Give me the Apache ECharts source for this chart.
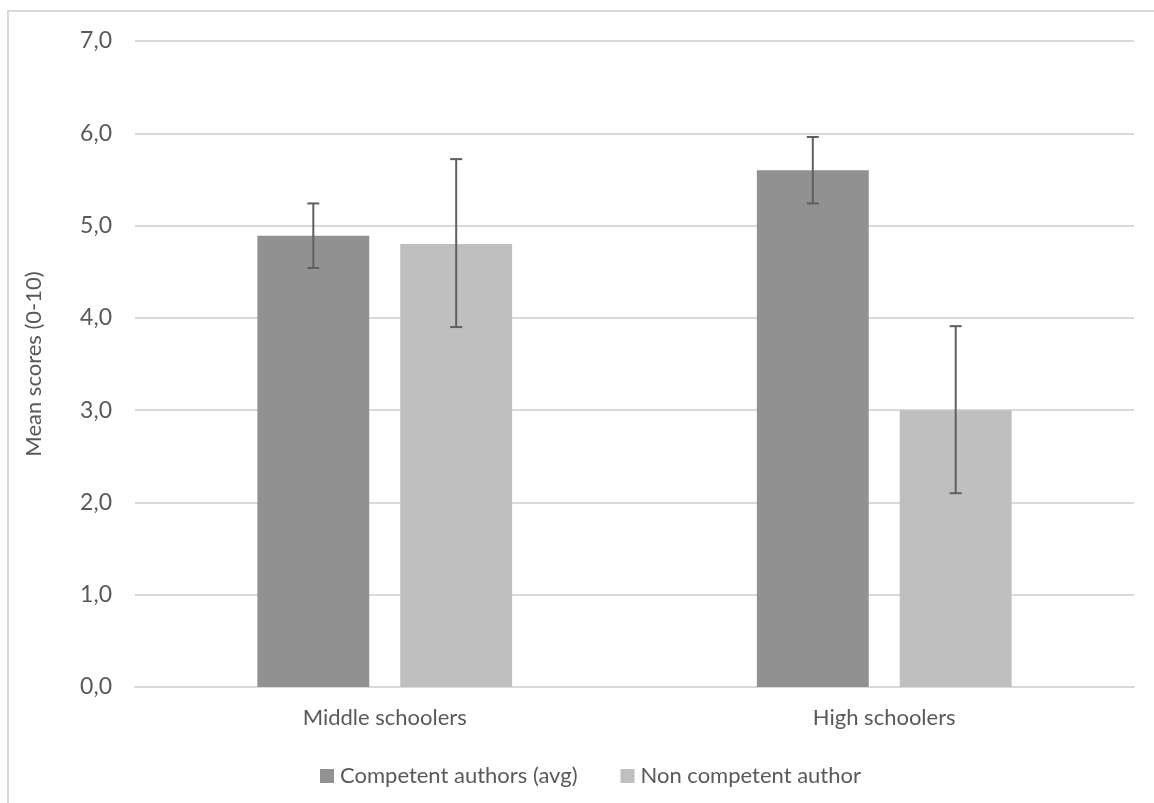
<!DOCTYPE html>
<html>
<head>
<meta charset="utf-8">
<script src="https://cdn.jsdelivr.net/npm/echarts@6/dist/echarts.min.js"></script>
<style>html,body{margin:0;padding:0;background:#fff}#c{width:1154px;height:803px}</style>
</head>
<body>
<div id="c"></div>
<script>
const categories = ['Middle schoolers', 'High schoolers'];
const seriesNames = ['Competent authors (avg)', 'Non competent author'];
const competentMeans = [4.89, 5.60];
const competentLow = [4.54, 5.24];
const competentHigh = [5.24, 5.96];
const nonCompetentMeans = [4.80, 3.00];
const nonCompetentLow = [3.90, 2.10];
const nonCompetentHigh = [5.72, 3.91];
const yTicks = [0, 1, 2, 3, 4, 5, 6, 7];

const FONT = 'Lato';
const TXT = '#595959';
const FS = 22;
const BAR_W = 0.224, BAR_GAP = 0.277;

function errSeries(low, high, sign) {
  return {
    type: 'custom',
    data: categories.map((c, i) => [i, low[i], high[i]]),
    z: 10,
    silent: true,
    renderItem: function (params, api) {
      const band = api.size([1, 0])[0];
      const off = sign * band * BAR_W * (1 + BAR_GAP) / 2;
      const lo = api.coord([api.value(0), api.value(1)]);
      const hi = api.coord([api.value(0), api.value(2)]);
      const x = lo[0] + off;
      const cap = 6;
      const style = { stroke: '#5f5f5f', lineWidth: 2 };
      return {
        type: 'group',
        children: [
          { type: 'line', shape: { x1: x, y1: lo[1], x2: x, y2: hi[1] }, style },
          { type: 'line', shape: { x1: x - cap, y1: lo[1], x2: x + cap, y2: lo[1] }, style },
          { type: 'line', shape: { x1: x - cap, y1: hi[1], x2: x + cap, y2: hi[1] }, style }
        ]
      };
    }
  };
}

const chart = echarts.init(document.getElementById('c'));
chart.setOption({
  animation: false,
  backgroundColor: '#fff',
  textStyle: { fontFamily: FONT },
  graphic: [{
    type: 'rect', z: -1, silent: true,
    shape: { x: 8, y: 11, width: 1170, height: 820 },
    style: { fill: 'none', stroke: '#d9d9d9', lineWidth: 2 }
  }],
  grid: { left: 135, right: 20, top: 41, bottom: 116 },
  legend: {
    data: seriesNames,
    left: 315, top: 760,
    itemWidth: 14, itemHeight: 14, itemGap: 43,
    icon: 'rect',
    textStyle: { fontFamily: FONT, fontSize: FS, color: TXT, padding: [0, 0, 0, 1] }
  },
  xAxis: {
    type: 'category',
    data: categories,
    axisLine: { lineStyle: { color: '#d9d9d9', width: 2 } },
    axisTick: { show: false },
    axisLabel: { fontFamily: FONT, fontSize: FS, color: TXT, margin: 20 }
  },
  yAxis: {
    type: 'value',
    min: yTicks[0], max: yTicks[yTicks.length - 1], interval: 1,
    name: 'Mean scores (0-10)',
    nameLocation: 'middle', nameGap: 90,
    nameTextStyle: { fontFamily: FONT, fontSize: FS, color: TXT },
    axisLine: { show: false },
    axisTick: { show: false },
    splitLine: { lineStyle: { color: '#d9d9d9', width: 2 } },
    axisLabel: {
      fontFamily: FONT, fontSize: 23, color: TXT, margin: 23,
      formatter: v => v.toFixed(1).replace('.', ',')
    }
  },
  series: [
    { name: seriesNames[0], type: 'bar', data: competentMeans, barWidth: (BAR_W * 100) + '%', barGap: (BAR_GAP * 100) + '%', itemStyle: { color: '#919191' } },
    { name: seriesNames[1], type: 'bar', data: nonCompetentMeans, barWidth: (BAR_W * 100) + '%', itemStyle: { color: '#bfbfbf' } },
    errSeries(competentLow, competentHigh, -1),
    errSeries(nonCompetentLow, nonCompetentHigh, 1)
  ]
});
</script>
</body>
</html>
